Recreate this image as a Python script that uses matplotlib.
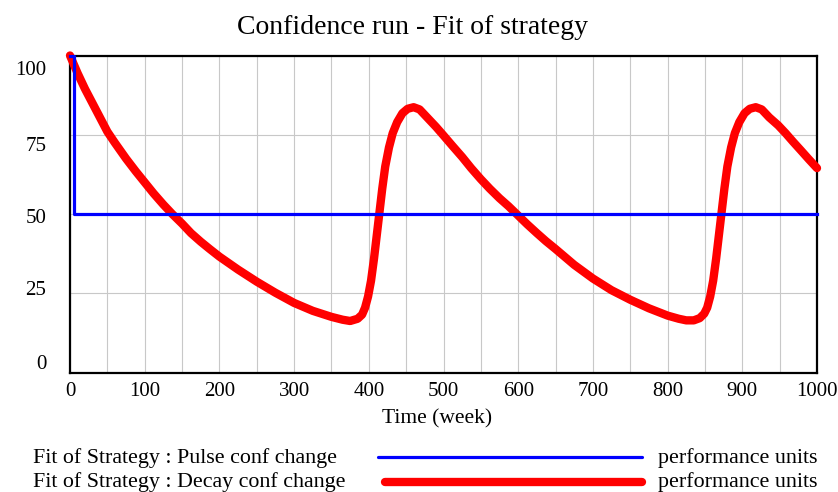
import matplotlib
matplotlib.use("Agg")
import matplotlib.pyplot as plt
from matplotlib.lines import Line2D
from matplotlib.transforms import ScaledTranslation

plt.rcParams["font.family"] = ["Liberation Serif", "DejaVu Serif"]

# pulse series: jumps to 50 shortly after start
pulse_t = [0, 5, 5, 1000]
pulse_v = [100, 100, 50, 50]

# decay series
decay_t = [0, 10, 20, 30, 40, 50, 60, 75, 88, 100, 112, 125, 137, 150, 162, 175,
           187, 200, 225, 250, 275, 300, 325, 350, 365, 375, 385, 391, 395, 399,
           403, 407, 411, 414, 418, 422, 427, 432, 438, 445, 452, 460, 468, 478,
           490, 500, 512, 525, 537, 550, 562, 575, 587, 598, 612, 625, 637, 650,
           675, 700, 725, 750, 775, 800, 815, 825, 835, 843, 849, 853, 857, 861,
           865, 869, 872, 876, 880, 885, 890, 896, 903, 910, 918, 926, 936, 948,
           958, 968, 978, 989, 1000]
decay_v = [100, 94.5, 89.5, 85, 80.5, 76, 72.5, 67.5, 63.5, 60, 56.5, 53, 50, 47, 44, 41.3,
           39, 36.6, 32.5, 28.7, 25.2, 22, 19.5, 17.6, 16.7, 16.3, 17, 18.3, 20.5, 24,
           29, 36, 44, 50, 58, 65, 71, 75.5, 79, 81.8, 83.2, 83.7, 83, 80.5,
           77.5, 74.8, 71.5, 68, 64.5, 61, 58, 55, 52.5, 50, 46.8, 44, 41.5, 39,
           34, 29.7, 26, 23, 20.3, 18, 17, 16.5, 16.5, 17.2, 18.6, 20.5, 24, 29,
           36, 44, 50, 58, 65, 71, 75.5, 79, 81.8, 83.2, 83.7, 83, 80.5, 78,
           75.5, 72.8, 70.2, 67.3, 64.5]

x_ticks = list(range(0, 1001, 100))
y_ticks = [0, 25, 50, 75, 100]
# vensim squeezes the y labels inward (pixel shifts)
y_label_shift = {0: 11, 25: 5, 50: -2, 75: -9, 100: -12.6}

W, H = 838, 492
fig = plt.figure(figsize=(W / 100, H / 100), dpi=100)
ax = fig.add_axes([70 / W, 1 - 372.7 / H, (817 - 70) / W, (372.7 - 55.5) / H])

ax.plot(decay_t, decay_v, color="#ff0000", lw=6, solid_capstyle="round",
        solid_joinstyle="round", zorder=3, clip_on=False)
ax.plot(pulse_t, pulse_v, color="#0000ff", lw=2.3, zorder=4, clip_on=False)

ax.set_xlim(0, 1000)
ax.set_ylim(0, 100)
ax.set_xticks(x_ticks)
ax.set_xticks(range(50, 1000, 100), minor=True)
ax.set_yticks(y_ticks)
ax.grid(True, which="both", axis="x", color="#c8c8c8", lw=0.8)
ax.grid(True, axis="y", color="#c8c8c8", lw=0.8)
ax.set_axisbelow(True)
ax.tick_params(which="both", length=0)
ax.tick_params(axis="x", labelsize=15, pad=7)
ax.tick_params(axis="y", labelsize=15, pad=17)
for sp in ax.spines.values():
    sp.set_linewidth(1.6)
    sp.set_color("black")

for lab in ax.get_yticklabels():
    v = int(round(float(lab.get_text())))
    dy = y_label_shift[v] / 100
    lab.set_transform(lab.get_transform() + ScaledTranslation(0, dy, fig.dpi_scale_trans))

ax.set_xlabel("Time (week)", fontsize=15.5, labelpad=1)
ax.xaxis.set_label_coords((437 - 70) / (817 - 70), -0.115)

fig.text(412 / W, 1 - 27 / H, "Confidence run - Fit of strategy", fontsize=20,
         ha="center", va="center")

# legend drawn by hand, vensim style
rows = [("Fit of Strategy : Pulse conf change", "#0000ff", 2.3, 378, 457),
        ("Fit of Strategy : Decay conf change", "#ff0000", 6, 385, 481.5)]
for name, col, lw, x0, y in rows:
    fig.text(33 / W, 1 - (y + 1) / H, name, fontsize=15.8, ha="left", va="center")
    fig.add_artist(Line2D([x0 / W, 642 / W], [1 - y / H, 1 - y / H], color=col,
                          lw=lw, solid_capstyle="round"))
    fig.text(817 / W, 1 - (y + 1) / H, "performance units", fontsize=15.8,
             ha="right", va="center")

fig.savefig("out.png", dpi=100)
